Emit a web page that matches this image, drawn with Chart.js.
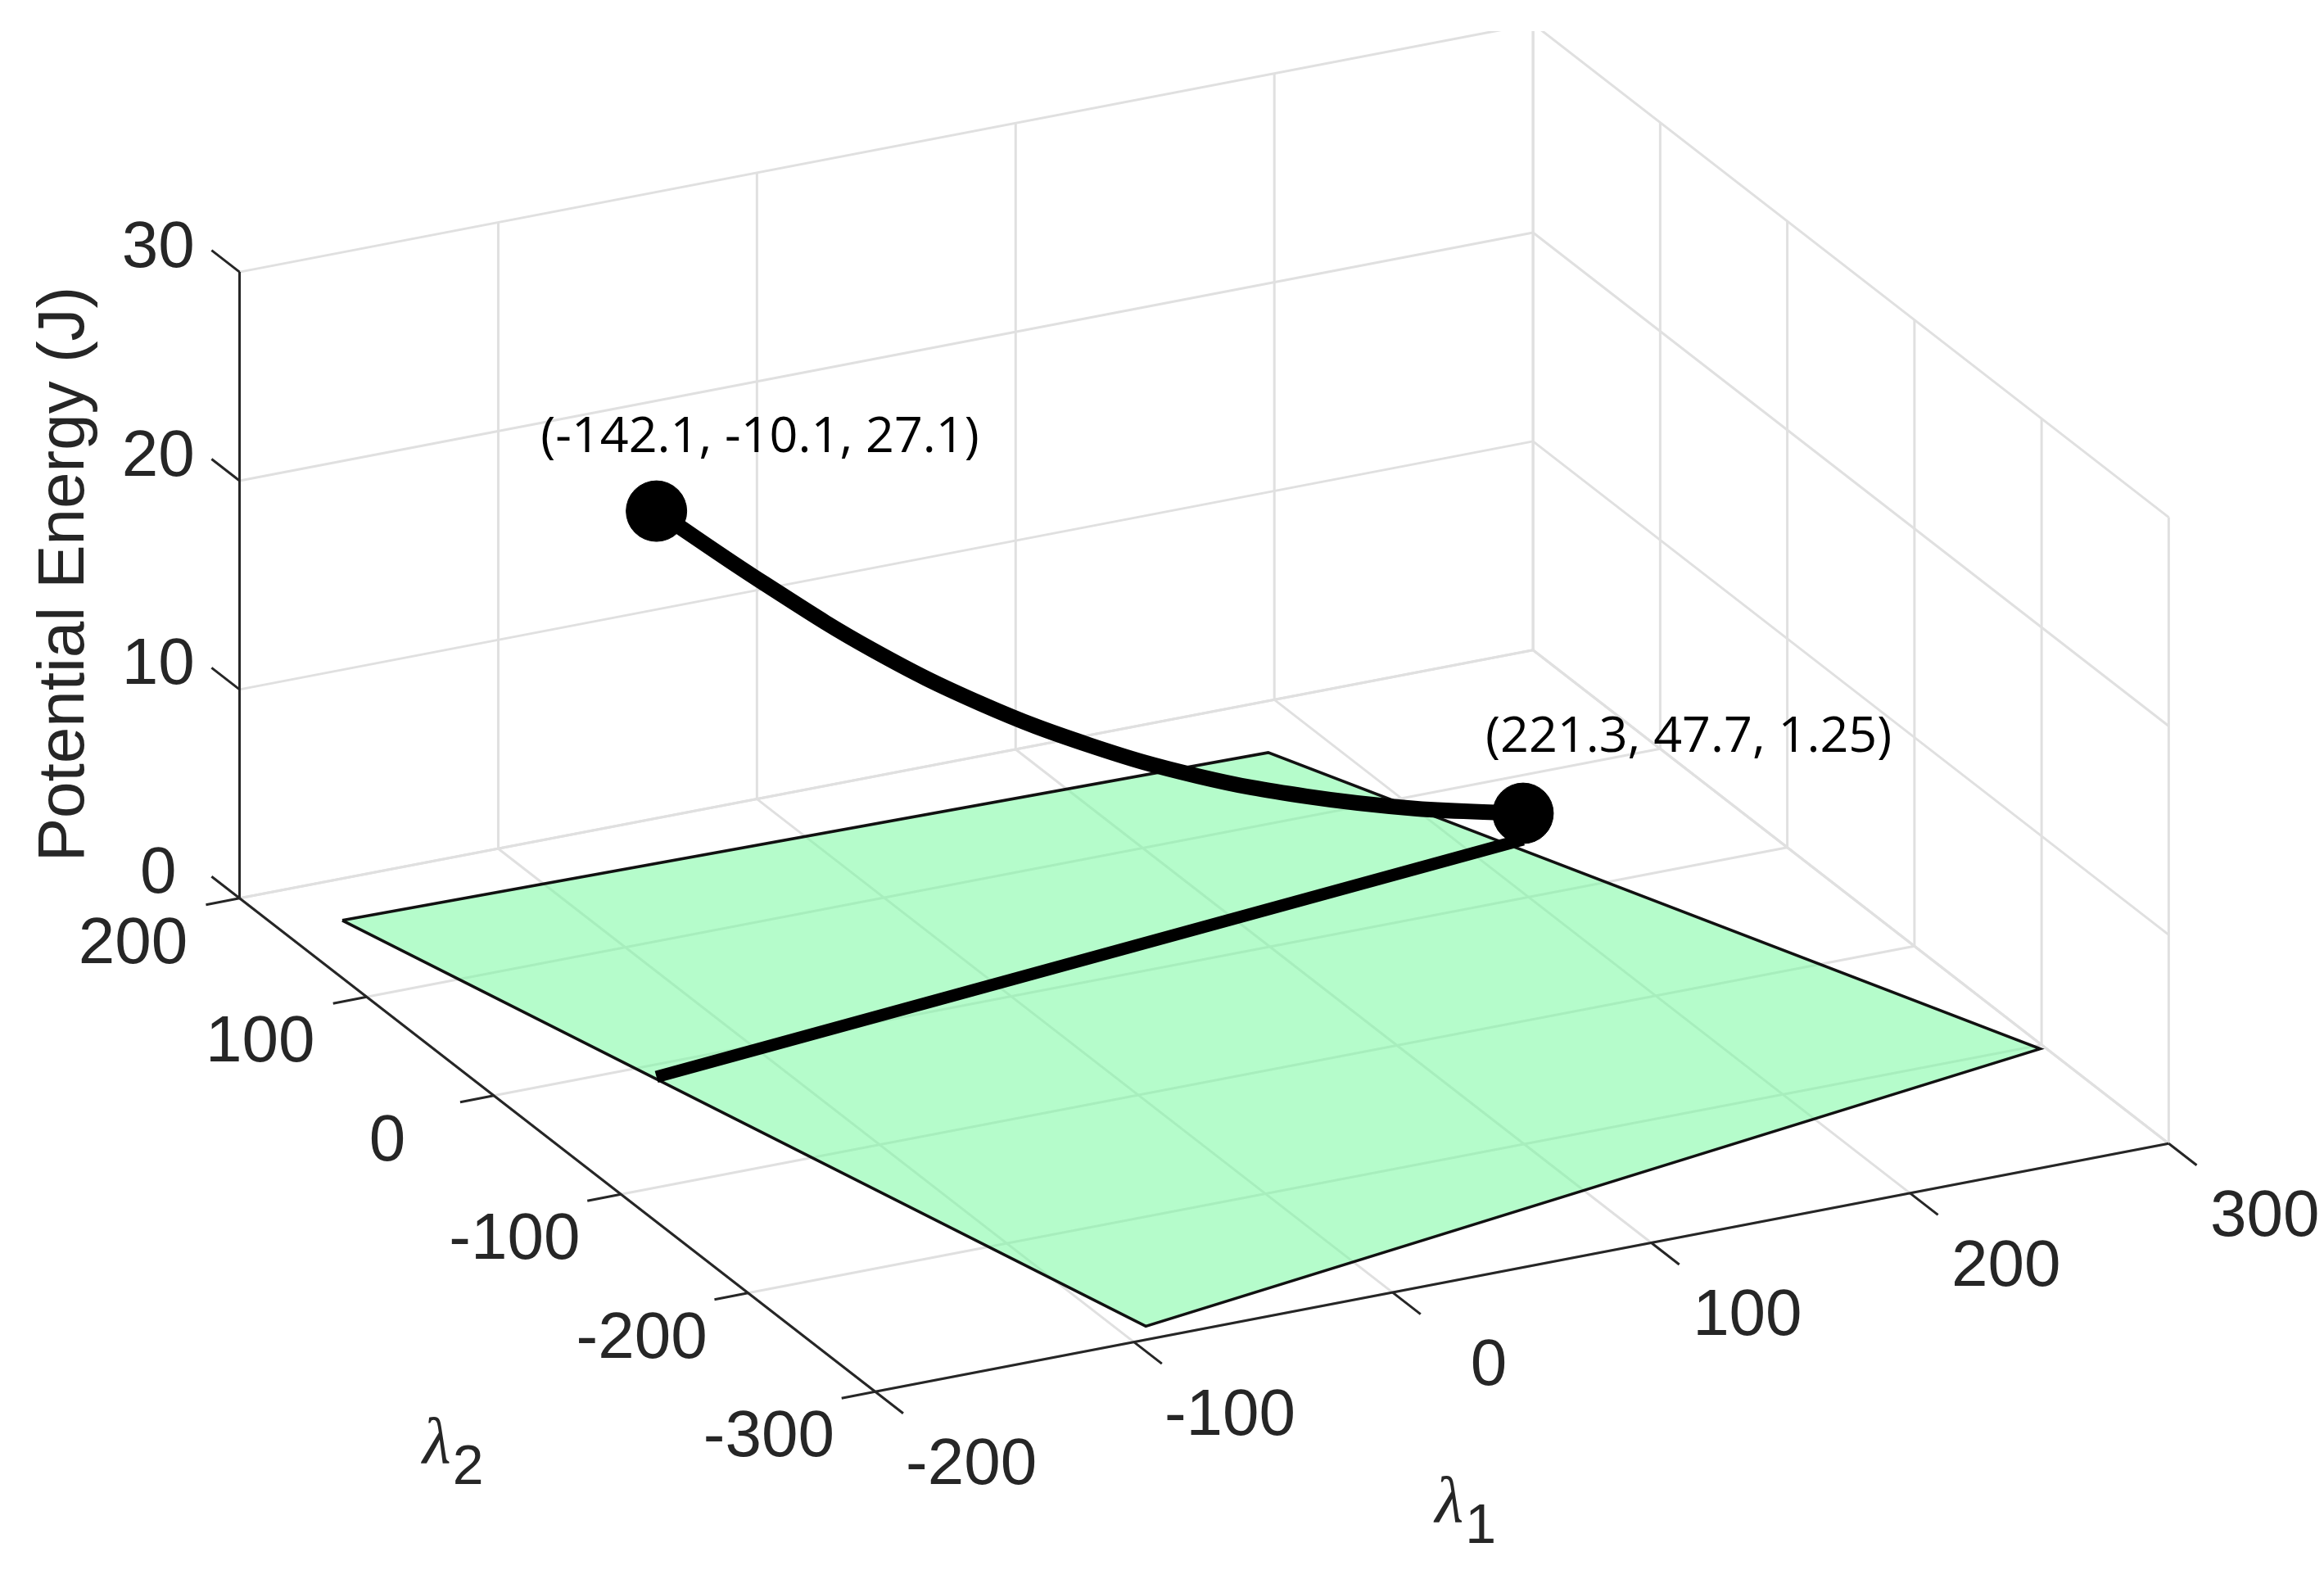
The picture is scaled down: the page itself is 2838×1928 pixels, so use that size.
<!DOCTYPE html>
<html><head><meta charset="utf-8">
<script src="https://cdn.jsdelivr.net/npm/chart.js@4"></script>
<style>html,body{margin:0;padding:0;background:#fff;overflow:hidden}#w{position:fixed;left:0;top:0;width:100vw;height:100vh}</style>
</head><body><div id="w"><canvas id="c"></canvas></div>
<script>
// ---- data ----
const lambda1Ticks = [-200, -100, 0, 100, 200, 300];
const lambda2Ticks = [-300, -200, -100, 0, 100, 200];
const zTicks = [0, 10, 20, 30];
const planeL1 = [-177, 177, 298, -90];
const planeL2 = [166, 158, -203, -289];
const curveL1 = [-142.1, -96.7, -51.3, -5.8, 39.6, 85.0, 130.5, 175.9, 221.3];
const curveL2 = [-10.1, -2.9, 4.4, 11.6, 18.8, 26.0, 33.3, 40.5, 47.7];
const curveZ  = [27.1, 22.2, 17.6, 13.6, 10.2, 7.3, 4.9, 2.9, 1.25];
const startPt = [-142.1, -10.1, 27.1];
const endPt   = [221.3, 47.7, 1.25];
const startLabel = "(-142.1, -10.1, 27.1)";
const endLabel = "(221.3, 47.7, 1.25)";

// ---- view projection (3D -> chart value space) ----
function P(l1, l2, z) {
  const a = l1 + 200, b = 200 - l2;
  return { x: 160 + a * 1.75 + b * 0.86, y: 607 - a * 0.34 + b * 0.676 - z * 14.3 };
}
const datasets = [];
function seg(p, q, color, w) {
  datasets.push({ data: [P(...p), P(...q)], showLine: true, borderColor: color, borderWidth: w, pointRadius: 0, fill: false, tension: 0 });
}
const G = '#e0e0e0', GW = 3;
lambda1Ticks.forEach(v => seg([v, 200, 0], [v, 200, 30], G, GW));
zTicks.forEach(z => seg([-200, 200, z], [300, 200, z], G, GW));
lambda2Ticks.forEach(v => seg([300, v, 0], [300, v, 30], G, GW));
zTicks.forEach(z => seg([300, -300, z], [300, 200, z], G, GW));
lambda1Ticks.forEach(v => seg([v, -300, 0], [v, 200, 0], G, GW));
lambda2Ticks.forEach(v => seg([-200, v, 0], [300, v, 0], G, GW));
const planePts = planeL1.map((v, i) => P(v, planeL2[i], 0));
planePts.push(planePts[0]);
datasets.push({ data: planePts, showLine: true, fill: 'shape', backgroundColor: 'rgba(120,250,160,0.55)', borderColor: '#111', borderWidth: 3.5, pointRadius: 0, tension: 0 });
const A = '#262626', AW = 3;
seg([-200, 200, 0], [-200, 200, 30], A, AW);
seg([-200, 200, 0], [-200, -300, 0], A, AW);
seg([-200, -300, 0], [300, -300, 0], A, AW);
zTicks.forEach(z => seg([-200, 200, z], [-200, 222, z], A, AW));
lambda2Ticks.forEach(v => seg([-200, v, 0], [-213, v, 0], A, AW));
lambda1Ticks.forEach(v => seg([v, -300, 0], [v, -322, 0], A, AW));
seg([startPt[0], startPt[1], 0], [endPt[0], endPt[1], 0], '#000', 15);
datasets.push({ data: curveL1.map((v, i) => P(v, curveL2[i], curveZ[i])), showLine: true, borderColor: '#000', borderWidth: 19, pointRadius: 0, tension: 0.4, fill: false });
datasets.push({ data: [P(...startPt), P(...endPt)], showLine: false, pointRadius: 37, pointBackgroundColor: '#000', pointBorderColor: '#000' });
const N = datasets.length;
datasets.forEach((d, i) => d.order = N - i);

const labelPlugin = {
  id: 'labels',
  afterDatasetsDraw(chart) {
    const ctx = chart.ctx, sx = chart.scales.x, sy = chart.scales.y;
    const px = (x) => sx.getPixelForValue(x), py = (y) => sy.getPixelForValue(y);
    const k = chart.width / 2838;
    const f = (n) => Math.round(n * k) + 'px';
    ctx.save();
    ctx.fillStyle = '#262626';
    ctx.textAlign = 'center'; ctx.textBaseline = 'middle';
    ctx.font = f(80) + ' "Liberation Sans", Arial, sans-serif';
    zTicks.forEach(z => { const p = P(-200, 200, z); ctx.fillText(String(z), px(p.x - 55), py(p.y - 16)); });
    lambda2Ticks.forEach(v => { const p = P(-200, v, 0); ctx.fillText(String(v), px(p.x - 72), py(p.y + 32)); });
    lambda1Ticks.forEach(v => { const p = P(v, -300, 0); ctx.fillText(String(v), px(p.x + 65), py(p.y + 51)); });
    ctx.save();
    ctx.translate(px(42), py(385)); ctx.rotate(-Math.PI / 2);
    ctx.fillText('Potential Energy (J)', 0, 0);
    ctx.restore();
    function lam(x, y, sub) {
      ctx.font = 'italic ' + f(80) + ' "Liberation Serif", serif';
      ctx.textAlign = 'right';
      ctx.fillText('λ', px(x), py(y));
      ctx.font = f(68) + ' "Liberation Sans", Arial, sans-serif';
      ctx.textAlign = 'left';
      ctx.fillText(sub, px(x) + 2, py(y + 16));
    }
    lam(303, 982, '2');
    lam(988, 1022, '1');
    ctx.fillStyle = '#000';
    ctx.textAlign = 'center';
    ctx.font = f(61) + ' "Liberation Sans Narrow", "Open Sans", sans-serif';
    const s = P(...startPt), e = P(...endPt);
    ctx.fillText(startLabel, px(s.x + 70), py(s.y - 50));
    ctx.fillText(endLabel, px(e.x + 112), py(e.y - 52));
    ctx.restore();
  }
};

new Chart(document.getElementById('c'), {
  type: 'scatter',
  data: { datasets },
  options: {
    responsive: true, maintainAspectRatio: false, animation: false,
    layout: { padding: 0 },
    plugins: { legend: { display: false }, tooltip: { enabled: false } },
    scales: {
      x: { type: 'linear', min: 19, max: 1549, display: false },
      y: { type: 'linear', min: 13, max: 1052, reverse: true, display: false }
    }
  },
  plugins: [labelPlugin]
});
</script></body></html>
